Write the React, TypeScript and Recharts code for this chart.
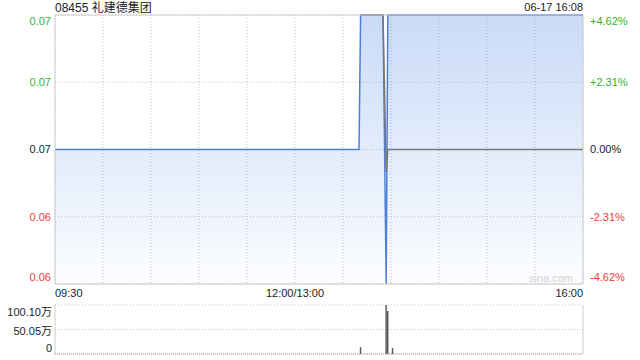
import React from 'react';
import {
    ComposedChart,
    Area,
    Line,
    Bar,
    XAxis,
    YAxis,
    CartesianGrid,
    ReferenceLine,
} from 'recharts';

const stockTitle = '08455 礼建德集团';
const stampText = '06-17 16:08';

// minutes since 09:30 with the lunch break removed (330 = 16:00)
const priceMinutes = [0, 190, 191, 205, 207, 208, 211, 330];
const prices = [0.065, 0.065, 0.068, 0.068, 0.062, 0.068, 0.068, 0.068];
const avgPrices = [null, null, 0.068, 0.068, 0.0645, 0.065, 0.065, 0.065];

const volMinutes = [191, 207, 208, 211];
const volumes = [140000, 1001000, 880000, 120000];

const prevClose = 0.065;
const priceTicks = [0.062, 0.0635, 0.065, 0.0665, 0.068];
const priceLabels = ['0.06', '0.06', '0.07', '0.07', '0.07'];
const pctLabels = ['-4.62%', '-2.31%', '0.00%', '+2.31%', '+4.62%'];

const timeTicks = [0, 30, 60, 90, 120, 150, 180, 210, 240, 270, 300, 330];
const timeLabels: Record<number, string> = { 0: '09:30', 150: '12:00/13:00', 330: '16:00' };

const volTicks = [0, 500500, 1001000];
const volLabels = ['0', '50.05万', '100.10万'];

const GREEN = '#33b333';
const RED = '#ee3b3b';
const DARK = '#222';
const FONT = '"Liberation Sans", Arial, "Noto Sans CJK SC", sans-serif';

const priceData = priceMinutes.map((m, i) => ({ m, price: prices[i], avg: avgPrices[i] }));
const volData = volMinutes.map((m, i) => ({ m, vol: volumes[i] }));

const tickColor = (v: number) => (v > prevClose ? GREEN : v < prevClose ? RED : DARK);

// end ticks get pulled inside the plot box
const nudge = (i: number, n: number) => (i === 0 ? -7 : i === n - 1 ? 6 : 0);

// price on the left, change vs previous close on the right
const PriceTick = (props: any) => {
    const { y, payload } = props;
    const i = priceTicks.indexOf(payload.value);
    const ty = y + nudge(i, priceTicks.length);
    const color = tickColor(payload.value);
    return (
        <g>
            <text x={51} y={ty} dy="0.35em" textAnchor="end" fill={color} fontSize={11}>
                {priceLabels[i]}
            </text>
            <text x={590} y={ty} dy="0.35em" textAnchor="start" fill={color} fontSize={11}>
                {pctLabels[i]}
            </text>
        </g>
    );
};

const TimeTick = (props: any) => {
    const { x, payload } = props;
    const label = timeLabels[payload.value];
    if (!label) return null;
    const anchor = payload.value === 0 ? 'start' : payload.value === 330 ? 'end' : 'middle';
    return (
        <text x={x} y={297} textAnchor={anchor} fill={DARK} fontSize={11}>
            {label}
        </text>
    );
};

const VolTick = (props: any) => {
    const { y, payload } = props;
    const i = volTicks.indexOf(payload.value);
    const dy = i === 0 ? -6 : i === volTicks.length - 1 ? 7 : 2;
    return (
        <text x={52} y={y + dy} dy="0.35em" textAnchor="end" fill={DARK} fontSize={11}>
            {volLabels[i]}
        </text>
    );
};

function App() {
    return (
        <div style={{ position: 'absolute', left: 0, top: 0, width: 640, height: 360, fontFamily: FONT, background: '#fff' }}>
            <div style={{ position: 'absolute', left: 55, top: 0, fontSize: 12, lineHeight: '16px', color: DARK }}>
                {stockTitle}
            </div>
            <div style={{ position: 'absolute', right: 57, top: 0, fontSize: 11, lineHeight: '15px', color: DARK }}>
                {stampText}
            </div>

            {/* price panel */}
            <div style={{ position: 'absolute', left: 0, top: 0 }}>
                <ComposedChart width={640} height={300} data={priceData}
                    margin={{ top: 15, right: 57, bottom: 0, left: 0 }}>
                    <defs>
                        <linearGradient id="priceFill" x1="0" y1="0" x2="0" y2="1">
                            <stop offset="0%" stopColor="#4d88e6" stopOpacity={0.3} />
                            <stop offset="100%" stopColor="#4d88e6" stopOpacity={0.02} />
                        </linearGradient>
                    </defs>
                    <CartesianGrid stroke="#c8c8c8" strokeDasharray="1 2" />
                    <XAxis type="number" dataKey="m" domain={[0, 330]} ticks={timeTicks} interval={0}
                        axisLine={false} tickLine={false} height={16} tick={<TimeTick />} />
                    <YAxis domain={[0.062, 0.068]} ticks={priceTicks} interval={0}
                        width={55} axisLine={false} tickLine={false} tick={<PriceTick />} />
                    <Area type="linear" dataKey="price" baseValue="dataMin"
                        stroke="#4d7fd6" strokeWidth={1.5} fill="url(#priceFill)" fillOpacity={1}
                        dot={false} activeDot={false} isAnimationActive={false} />
                    <Line type="linear" dataKey="avg" stroke="#777" strokeWidth={1.5}
                        dot={false} activeDot={false} isAnimationActive={false} />
                    <ReferenceLine x={0} stroke="#ccc" />
                    <ReferenceLine x={330} stroke="#ccc" />
                    <ReferenceLine y={0.062} stroke="#ccc" />
                    <ReferenceLine y={0.068} stroke="#ccc" />
                </ComposedChart>
            </div>
            <div style={{ position: 'absolute', right: 67, top: 271, fontSize: 11, lineHeight: '14px', color: '#d2d2d2' }}>
                sina.com
            </div>

            {/* volume panel */}
            <div style={{ position: 'absolute', left: 0, top: 300 }}>
                <ComposedChart width={640} height={60} data={volData}
                    margin={{ top: 5, right: 57, bottom: 6, left: 0 }}>
                    <CartesianGrid vertical={false} stroke="#c8c8c8" strokeDasharray="1 2" />
                    <XAxis type="number" dataKey="m" domain={[0, 330]} hide />
                    <YAxis domain={[0, 1001000]} ticks={volTicks} interval={0} width={55}
                        axisLine={false} tickLine={false} tick={<VolTick />} />
                    <ReferenceLine x={0} stroke="#ccc" />
                    <ReferenceLine x={330} stroke="#ccc" />
                    <ReferenceLine y={0} stroke="#999" strokeDasharray="1 1" />
                    <Bar dataKey="vol" barSize={2} fill="#555" isAnimationActive={false} />
                </ComposedChart>
            </div>
        </div>
    );
}

export default App;
